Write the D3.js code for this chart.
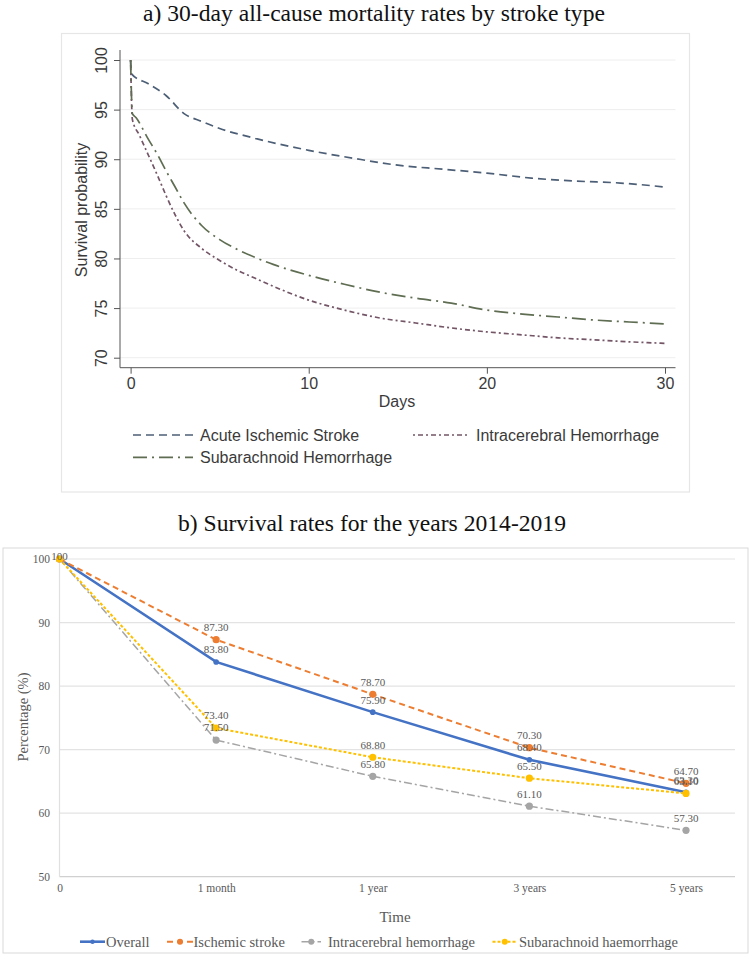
<!DOCTYPE html>
<html><head><meta charset="utf-8">
<script src="https://cdn.jsdelivr.net/npm/d3@7/dist/d3.min.js"></script>
<style>body{margin:0;background:#fff}</style>
</head><body><svg id="c" width="752" height="957"></svg>
<script>
// ---------- Panel a data (Kaplan-Meier style curves) ----------
const titleA = "a) 30-day all-cause mortality rates by stroke type";
const aTicksX = [0, 10, 20, 30];
const aTicksY = [70, 75, 80, 85, 90, 95, 100];
const aisDays = [0, 0.05, 1, 2, 3, 4, 5, 7, 10, 12.5, 15, 17.5, 20, 22.5, 25, 27.5, 30];
const aisVals = [100, 98.6, 97.6, 96.4, 94.6, 93.8, 93.1, 92.1, 90.9, 90.1, 89.4, 89.0, 88.6, 88.1, 87.8, 87.6, 87.2];
const ichDays = [0, 0.1, 0.5, 1, 1.5, 2, 2.5, 3, 4, 5, 6, 7, 8, 10, 12, 14, 16, 18, 20, 22, 24, 26, 28, 30];
const ichVals = [100, 94.0, 92.4, 90.4, 88.4, 86.3, 84.4, 82.8, 81.0, 79.8, 78.8, 78.0, 77.2, 75.8, 74.8, 74.0, 73.5, 73.0, 72.6, 72.3, 72.0, 71.8, 71.6, 71.45];
const sahDays = [0, 0.1, 0.3, 1, 1.5, 2, 2.5, 3, 4, 5, 6, 7, 8, 10, 12, 14, 16, 18, 20, 22, 24, 26, 28, 30];
const sahVals = [100, 94.6, 94.2, 92.0, 90.5, 88.8, 87.2, 85.6, 83.3, 81.9, 80.9, 80.1, 79.4, 78.3, 77.4, 76.6, 76.0, 75.5, 74.8, 74.4, 74.1, 73.8, 73.6, 73.4];
const aSeriesNames = ["Acute Ischemic Stroke", "Intracerebral Hemorrhage", "Subarachnoid Hemorrhage"];

// ---------- Panel b data ----------
const titleB = "b) Survival rates for the years 2014-2019";
const bCategories = ["0", "1 month", "1 year", "3 years", "5 years"];
const bTicksY = [50, 60, 70, 80, 90, 100];
const overall = [100, 83.8, 75.9, 68.4, 63.3];
const ischemic = [100, 87.3, 78.7, 70.3, 64.7];
const intracerebral = [100, 71.5, 65.8, 61.1, 57.3];
const subarachnoid = [100, 73.4, 68.8, 65.5, 63.1];
const bSeriesNames = ["Overall", "Ischemic stroke", "Intracerebral hemorrhage", "Subarachnoid haemorrhage"];

const SERIF = "'Liberation Serif','Times New Roman',serif";
const SANS = "'Liberation Sans',Arial,sans-serif";
const svg = d3.select("#c");

// =================== PANEL A ===================
svg.append("text").attr("x", 374).attr("y", 20.5).attr("text-anchor", "middle")
  .style("font-family", SERIF).style("font-size", "23.6px").attr("fill", "#111").text(titleA);

const gA = svg.append("g");
gA.append("rect").attr("x", 61.5).attr("y", 33.5).attr("width", 628).attr("height", 458.5)
  .attr("fill", "#fff").attr("stroke", "#e6e6e6").attr("stroke-width", 1.2);

const xA = d3.scaleLinear().domain([0, 30]).range([130.6, 665]);
const yA = d3.scaleLinear().domain([70, 100]).range([357.7, 60]);
const axA = 120, ayA = 367.7, rightA = 675.5;

// gridlines
gA.append("g").selectAll("line").data(aTicksY).join("line")
  .attr("x1", axA).attr("x2", rightA).attr("y1", d => yA(d)).attr("y2", d => yA(d))
  .attr("stroke", "#eeeeee").attr("stroke-width", 1);

// y axis
const yAxA = gA.append("g").attr("transform", `translate(${axA},0)`)
  .call(d3.axisLeft(yA).tickValues(aTicksY).tickSize(6).tickFormat(d3.format("d")));
yAxA.select(".domain").remove();
yAxA.selectAll("line").attr("stroke", "#555");
yAxA.selectAll("text").attr("x", null).attr("dy", null).attr("text-anchor", "middle")
  .attr("transform", "translate(-13,0) rotate(-90)")
  .style("font-family", SANS).style("font-size", "16px").attr("fill", "#3a3a3a");
gA.append("line").attr("x1", axA).attr("x2", axA).attr("y1", 50).attr("y2", ayA).attr("stroke", "#555");

// x axis
const xAxA = gA.append("g").attr("transform", `translate(0,${ayA})`)
  .call(d3.axisBottom(xA).tickValues(aTicksX).tickSize(6).tickFormat(d3.format("d")));
xAxA.select(".domain").remove();
xAxA.selectAll("line").attr("stroke", "#555");
xAxA.selectAll("text").attr("y", 21).attr("dy", null)
  .style("font-family", SANS).style("font-size", "16px").attr("fill", "#3a3a3a");
gA.append("line").attr("x1", axA).attr("x2", rightA).attr("y1", ayA).attr("y2", ayA).attr("stroke", "#555");

gA.append("text").attr("x", 397).attr("y", 406.5).attr("text-anchor", "middle")
  .style("font-family", SANS).style("font-size", "16px").attr("fill", "#3a3a3a").text("Days");
gA.append("text").attr("transform", "translate(87,210) rotate(-90)").attr("text-anchor", "middle")
  .style("font-family", SANS).style("font-size", "16px").attr("fill", "#3a3a3a").text("Survival probability");

const aStyles = [
  {days: aisDays, vals: aisVals, color: "#4d5f76", dash: "8,5"},
  {days: ichDays, vals: ichVals, color: "#735566", dash: "2,3,5,3"},
  {days: sahDays, vals: sahVals, color: "#5f6d52", dash: "14,5,2,5"}
];
const lineA = d3.line().x(d => xA(d[0])).y(d => yA(d[1])).curve(d3.curveMonotoneX);
aStyles.forEach(s => {
  gA.append("path").attr("d", lineA(s.days.map((d, i) => [d, s.vals[i]])))
    .attr("fill", "none").attr("stroke", s.color).attr("stroke-width", 1.7)
    .attr("stroke-dasharray", s.dash);
});

// legend a
const legA = [
  {x1: 133, x2: 193, tx: 200, y: 435, i: 0},
  {x1: 413, x2: 468, tx: 476, y: 435, i: 1},
  {x1: 133, x2: 193, tx: 200, y: 457.3, i: 2}
];
legA.forEach(l => {
  const s = aStyles[l.i];
  gA.append("line").attr("x1", l.x1).attr("x2", l.x2).attr("y1", l.y).attr("y2", l.y)
    .attr("stroke", s.color).attr("stroke-width", 1.7).attr("stroke-dasharray", s.dash);
  gA.append("text").attr("x", l.tx).attr("y", l.y + 5.7)
    .style("font-family", SANS).style("font-size", "16px").attr("fill", "#3a3a3a").text(aSeriesNames[l.i]);
});

// =================== PANEL B ===================
svg.append("text").attr("x", 372).attr("y", 530.5).attr("text-anchor", "middle")
  .style("font-family", SERIF).style("font-size", "23.6px").attr("fill", "#111").text(titleB);

const gB = svg.append("g");
gB.append("rect").attr("x", 3).attr("y", 548).attr("width", 745).attr("height", 405)
  .attr("fill", "#fff").attr("stroke", "#d9d9d9").attr("stroke-width", 1);

const xB = d3.scalePoint().domain(bCategories).range([59.5, 686]);
const yB = d3.scaleLinear().domain([50, 100]).range([876.7, 559]);
const rightB = 735;

gB.append("g").selectAll("line").data(bTicksY).join("line")
  .attr("x1", 59.5).attr("x2", rightB).attr("y1", d => yB(d)).attr("y2", d => yB(d))
  .attr("stroke", d => d === 50 ? "#d0d0d0" : "#e3e3e3").attr("stroke-width", 1.2);
gB.append("line").attr("x1", 59.5).attr("x2", 59.5).attr("y1", yB(100)).attr("y2", yB(50))
  .attr("stroke", "#e0e0e0").attr("stroke-width", 1.2);

const yAxB = gB.append("g").attr("transform", "translate(50,0)")
  .call(d3.axisLeft(yB).tickValues(bTicksY).tickSize(0).tickPadding(0));
yAxB.select(".domain").remove();
yAxB.selectAll("text").style("font-family", SERIF).style("font-size", "11.5px").attr("fill", "#595959");

const xAxB = gB.append("g").attr("transform", "translate(0,876.7)")
  .call(d3.axisBottom(xB).tickSize(0));
xAxB.select(".domain").remove();
xAxB.selectAll("text").attr("y", 15.5).attr("dy", null)
  .style("font-family", SERIF).style("font-size", "11.5px").attr("fill", "#595959");

gB.append("text").attr("x", 395).attr("y", 921.5).attr("text-anchor", "middle")
  .style("font-family", SERIF).style("font-size", "15px").attr("fill", "#595959").text("Time");
gB.append("text").attr("transform", "translate(28,717) rotate(-90)").attr("text-anchor", "middle")
  .style("font-family", SERIF).style("font-size", "14.5px").attr("fill", "#595959").text("Percentage (%)");

const bStyles = [
  {vals: overall, color: "#4472C4", dash: null, w: 2.6, r: 2.8},
  {vals: ischemic, color: "#ED7D31", dash: "6,4", w: 2, r: 3.6},
  {vals: intracerebral, color: "#A5A5A5", dash: "8,3,2,3", w: 1.5, r: 3.6},
  {vals: subarachnoid, color: "#FFC000", dash: "3,2", w: 2, r: 3.6}
];
const lineB = d3.line().x(d => xB(d[0])).y(d => yB(d[1]));
bStyles.forEach(s => {
  const pts = bCategories.map((c, i) => [c, s.vals[i]]);
  gB.append("path").attr("d", lineB(pts)).attr("fill", "none")
    .attr("stroke", s.color).attr("stroke-width", s.w).attr("stroke-dasharray", s.dash);
  gB.append("g").selectAll("circle").data(pts).join("circle")
    .attr("cx", d => xB(d[0])).attr("cy", d => yB(d[1])).attr("r", s.r).attr("fill", s.color);
});
// data labels (the shared start point "100" is labelled once)
bStyles.forEach((s, si) => {
  const pts = bCategories.map((c, i) => [c, s.vals[i]]).filter((d, i) => i > 0 || si === 0);
  gB.append("g").selectAll("text").data(pts).join("text")
    .attr("x", d => xB(d[0]))
    .attr("y", d => d[0] === bCategories[0] ? yB(d[1]) + 0.5 : yB(d[1]) - 8.6)
    .attr("text-anchor", "middle")
    .style("font-family", SERIF).style("font-size", "11px").attr("fill", "#595959")
    .text(d => d[0] === bCategories[0] ? "100" : d3.format(".2f")(d[1]));
});

// legend b
const legB = [
  {x1: 80, x2: 105, tx: 106},
  {x1: 167, x2: 193, tx: 193.5},
  {x1: 301.5, x2: 321, tx: 328},
  {x1: 492.5, x2: 517, tx: 519}
];
const ly = 941.7;
legB.forEach((l, i) => {
  const s = bStyles[i];
  gB.append("line").attr("x1", l.x1).attr("x2", l.x2).attr("y1", ly).attr("y2", ly)
    .attr("stroke", s.color).attr("stroke-width", s.w).attr("stroke-dasharray", s.dash);
  gB.append("circle").attr("cx", (l.x1 + l.x2) / 2).attr("cy", ly).attr("r", s.r - 0.6).attr("fill", s.color);
  gB.append("text").attr("x", l.tx).attr("y", ly + 5)
    .style("font-family", SERIF).style("font-size", "14.5px").attr("fill", "#595959").text(bSeriesNames[i]);
});
</script>
</body></html>
